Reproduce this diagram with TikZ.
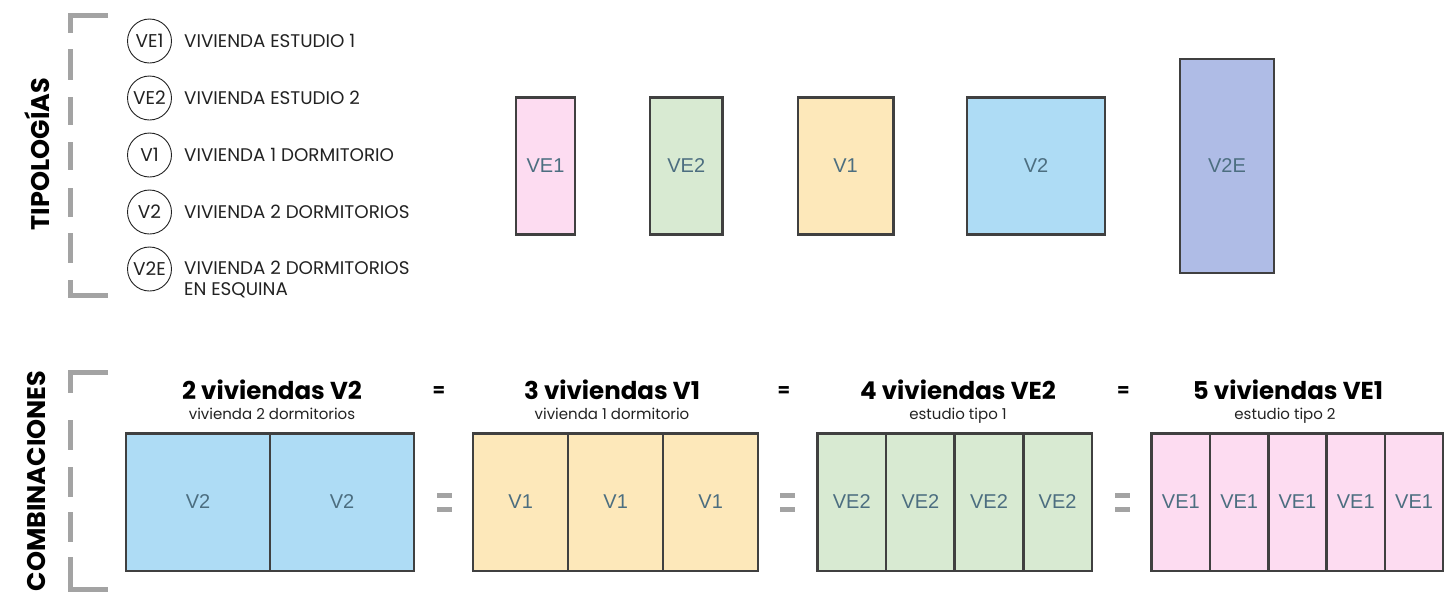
\documentclass[tikz,border=0pt]{standalone}
\usepackage{fontspec}
\setmainfont{Poppins}
\newfontfamily\labfont{Liberation Sans}
\definecolor{cpink}{HTML}{FDDCF1}
\definecolor{cgreen}{HTML}{D8EAD2}
\definecolor{cyellow}{HTML}{FDE8BA}
\definecolor{cblue}{HTML}{AEDCF5}
\definecolor{cpurple}{HTML}{AFBCE6}
\definecolor{boxline}{HTML}{404040}
\definecolor{labc}{HTML}{4C6E80}
\definecolor{brk}{HTML}{A3A3A3}
\definecolor{txt}{HTML}{222222}
\begin{document}
\begin{tikzpicture}[x=1pt,y=-1pt,
  unit/.style={draw=boxline, line width=2.5pt, inner sep=0pt, outer sep=0pt,
    text=labc, font=\labfont\fontsize{20}{20}\selectfont},
  legcirc/.style={circle, draw=txt, line width=0.9pt, minimum size=44pt, inner sep=0pt,
    text=txt, font=\fontsize{18.5}{18.5}\selectfont},
  legtext/.style={anchor=west, text=txt, font=\fontsize{18.3}{20}\selectfont, inner sep=0pt},
  headline/.style={anchor=base, text=black, font=\bfseries\fontsize{24.5}{24.5}\selectfont, inner sep=0pt},
  subline/.style={anchor=base, text=txt, font=\fontsize{15}{15}\selectfont, inner sep=0pt},
  eqsmall/.style={text=black, font=\bfseries\fontsize{18}{18}\selectfont, inner sep=0pt},
  eqbar/.style={fill=brk, draw=none},
  bracket/.style={draw=brk, line width=5pt, line cap=butt, line join=miter},
  sidetitle/.style={rotate=90, text=black, font=\bfseries\fontsize{25.5}{25.5}\selectfont, inner sep=0pt}
]
\useasboundingbox (0,0) rectangle (1452,595);

% side titles
\node[sidetitle] (ttip) at (37,154) {TIPOLOGÍAS};
\node[sidetitle] (tcomb) at (37,481) {COMBINACIONES};

% brackets
\draw[bracket] (108,15) -- (70.5,15) -- (70.5,33);
\foreach \a/\b in {49/80, 97/125, 142/170, 188/217, 233/263}
  \draw[bracket] (70.5,\a) -- (70.5,\b);
\draw[bracket] (70.5,280) -- (70.5,295) -- (108,295);

\draw[bracket] (108,372.5) -- (70.5,372.5) -- (70.5,393);
\foreach \a/\b in {420/450, 467/497, 512/542}
  \draw[bracket] (70.5,\a) -- (70.5,\b);
\draw[bracket] (70.5,557) -- (70.5,589) -- (108,589);

% legend
\node[legcirc] (cve1) at (149.5,41) {VE1};
\node[legcirc] (cve2) at (149.5,98) {VE2};
\node[legcirc] (cv1) at (149.5,155) {V1};
\node[legcirc] (cv2) at (149.5,212) {V2};
\node[legcirc] (cv2e) at (149.5,269) {V2E};
\node[legtext] (lve1) at (184,41) {VIVIENDA ESTUDIO 1};
\node[legtext] (lve2) at (184,98) {VIVIENDA ESTUDIO 2};
\node[legtext] (lv1) at (184,155) {VIVIENDA 1 DORMITORIO};
\node[legtext] (lv2) at (184,212) {VIVIENDA 2 DORMITORIOS};
\node[legtext] (lv2e) at (184,268) {VIVIENDA 2 DORMITORIOS};
\node[legtext] (lv2eb) at (184,290) {EN ESQUINA};

% typologies
\node[unit, fill=cpink, minimum width=59pt, minimum height=137pt] (tve1) at (545.5,166) {VE1};
\node[unit, fill=cgreen, minimum width=72.5pt, minimum height=137pt] (tve2) at (686.3,166) {VE2};
\node[unit, fill=cyellow, minimum width=95.5pt, minimum height=137pt] (tv1) at (845.5,166) {V1};
\node[unit, fill=cblue, minimum width=138pt, minimum height=137pt] (tv2) at (1036,166) {V2};
\node[unit, fill=cpurple, minimum width=94pt, minimum height=214pt] (tv2e) at (1227,166) {V2E};

% headings
\node[headline] (h1) at (272,399) {2 viviendas V2};
\node[subline] (s1) at (272,419) {vivienda 2 dormitorios};
\node[headline] (h2) at (612,399) {3 viviendas V1};
\node[subline] (s2) at (612,419) {vivienda 1 dormitorio};
\node[headline] (h3) at (958,399) {4 viviendas VE2};
\node[subline] (s3) at (958,419) {estudio tipo 1};
\node[headline] (h4) at (1288,399) {5 viviendas VE1};
\node[subline] (s4) at (1285,419) {estudio tipo 2};

\node[eqsmall] (e1) at (439,392) {=};
\node[eqsmall] (e2) at (784,392) {=};
\node[eqsmall] (e3) at (1123.5,392) {=};

% big equal signs
\foreach \cx in {444, 787, 1122}{
  \path[eqbar] (\cx-7.5,492.5) rectangle (\cx+7.5,497.5);
  \path[eqbar] (\cx-7.5,507) rectangle (\cx+7.5,512);
}

% combinations
\foreach \i in {0,1}
  \node[unit, fill=cblue, minimum width=144pt, minimum height=137.5pt] (b2\i) at (198+\i*144,502) {V2};
\foreach \i in {0,1,2}
  \node[unit, fill=cyellow, minimum width=95pt, minimum height=137.5pt] (b1\i) at (520.7+\i*95,502) {V1};
\foreach \i in {0,1,2,3}
  \node[unit, fill=cgreen, minimum width=68.6pt, minimum height=137.5pt] (be2\i) at (851.8+\i*68.6,502) {VE2};
\foreach \i in {0,1,2,3,4}
  \node[unit, fill=cpink, minimum width=58.3pt, minimum height=137.5pt] (be1\i) at (1180.85+\i*58.3,502) {VE1};
\end{tikzpicture}
\end{document}
